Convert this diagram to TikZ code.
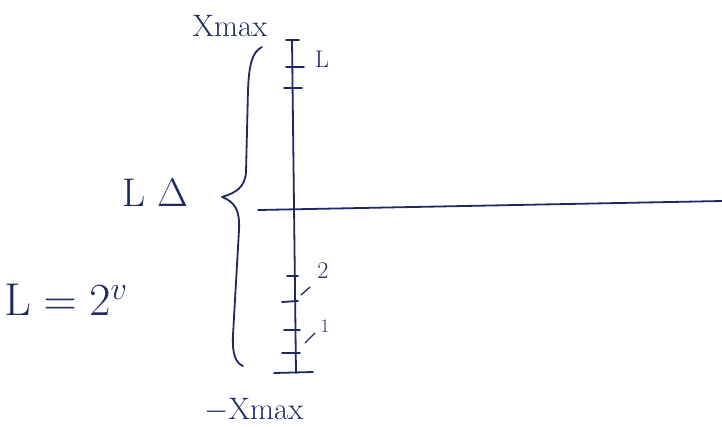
\RequirePackage{fix-cm}
\documentclass[tikz,border=0pt]{standalone}
\definecolor{inkc}{RGB}{30,40,100}
\begin{document}
\begin{tikzpicture}[x=1pt,y=-1pt,
  ink/.style={draw=inkc, line width=1.8pt, line cap=round, line join=round},
  lbl/.style={text=inkc, inner sep=0pt}]
\useasboundingbox (0,0) rectangle (722,426);
% axis
\coordinate (axtop) at (292,40);
\coordinate (axbot) at (296,373);
\draw[ink] (axtop) -- (axbot);
% end caps
\draw[ink] (286,40) -- (299,40);
\draw[ink] (274,373) -- (313,372);
% ticks
\draw[ink] (286,67) -- (304,67);
\draw[ink] (284,88) -- (302,88);
\draw[ink] (287,276) -- (298,276);
\draw[ink] (282,302) -- (298,301);
\draw[ink] (284,330) -- (300,330);
\draw[ink] (282,353) -- (300,353);
% horizontal line
\coordinate (hl) at (258,210);
\coordinate (hr) at (722,201);
\draw[ink] (hl) -- (hr);
% brace
\draw[ink] (262,47) .. controls (252,52) and (249,65) .. (248,90)
  -- (246,172) .. controls (245,188) and (235,193) .. (222,197)
  .. controls (235,202) and (240,210) .. (239,230)
  -- (233,335) .. controls (232,355) and (236,363) .. (243,366);
% slashes
\draw[ink, line width=1.3pt] (301,295) -- (310,287);
\draw[ink, line width=1.3pt] (305,343) -- (315,333);
% labels
\node[lbl, font=\fontsize{31}{33}\selectfont] (xmaxtop) at (230,26) {Xmax};
\node[lbl, font=\fontsize{31}{33}\selectfont] (xmaxbot) at (254,410) {$-$Xmax};
\node[lbl, font=\fontsize{40}{42}\selectfont] (ld) at (155,193) {L $\Delta$};
\node[lbl, font=\fontsize{46}{48}\selectfont] (lform) at (66,300) {$\mathrm{L}=2^{v}$};
\node[lbl, font=\fontsize{24}{26}\selectfont] (tl) at (322,59) {L};
\node[lbl, font=\fontsize{24}{26}\selectfont] (t2) at (323,271) {2};
\node[lbl, font=\fontsize{19}{21}\selectfont] (t1) at (325,326) {1};
\end{tikzpicture}
\end{document}
